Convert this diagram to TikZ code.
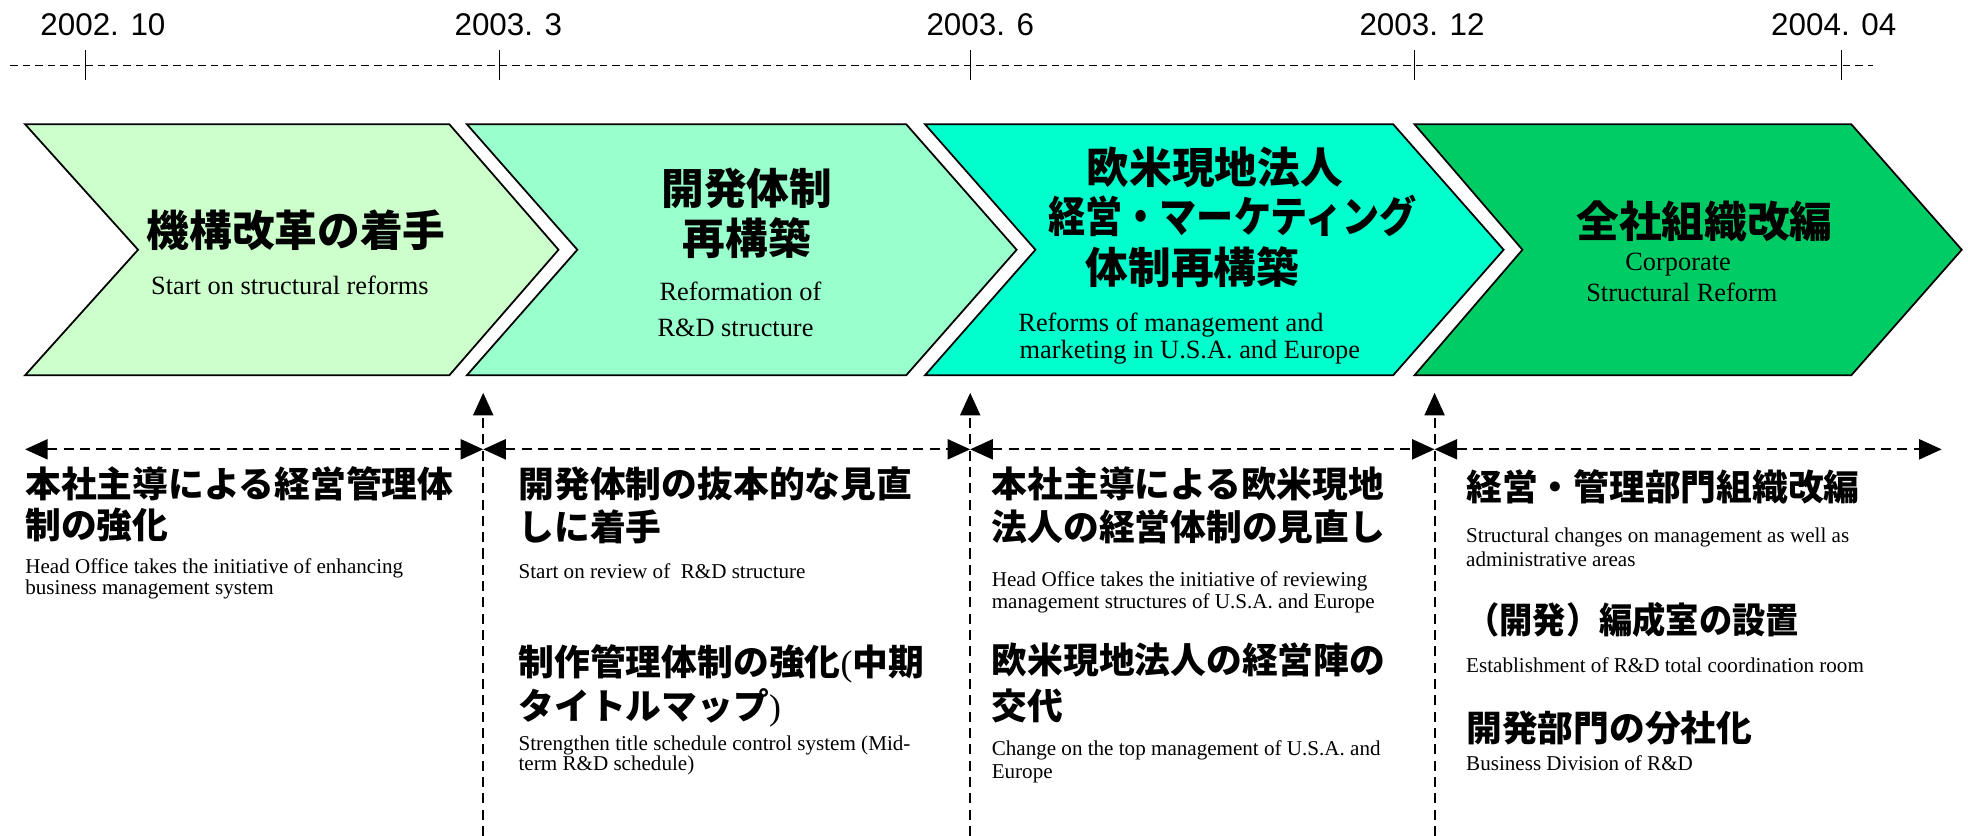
\documentclass[tikz,border=0pt]{standalone}
\usepackage{fontspec}
\setmainfont{Liberation Serif}
\newfontfamily\jp{Noto Sans CJK JP}
\newfontfamily\datefont{Liberation Sans}
\usetikzlibrary{arrows.meta}
\definecolor{cA}{HTML}{CCFFCC}
\definecolor{cB}{HTML}{99FFCC}
\definecolor{cC}{HTML}{00FFCC}
\definecolor{cD}{HTML}{00CC66}
\tikzset{
  jpbig/.style={font=\jp\bfseries\fontsize{34}{40}\selectfont, anchor=base, inner sep=0pt},
  jptext/.style={font=\jp\bfseries\fontsize{28.5}{34}\selectfont, anchor=base west, inner sep=0pt},
  entext/.style={font=\fontsize{16.8}{17.5}\selectfont, anchor=base west, inner sep=0pt},
  enchev/.style={font=\fontsize{21}{24}\selectfont, anchor=base, inner sep=0pt},
  datelabel/.style={font=\datefont\fontsize{25}{30}\selectfont, anchor=base west, inner sep=0pt},
  chev/.style={draw=black, line width=1.4pt, line join=miter},
  tline/.style={line width=1.1pt, dash pattern=on 6pt off 4pt},
  tick/.style={line width=1.1pt},
  divider/.style={line width=1.6pt, dash pattern=on 8pt off 5pt, -{Triangle[length=18pt,width=16pt]}},
  spanarrow/.style={line width=1.6pt, dash pattern=on 8pt off 5pt, {Triangle[length=18pt,width=16pt]}-{Triangle[length=18pt,width=16pt]}},
}
\begin{document}
\begin{tikzpicture}[x=1pt,y=-1pt]
\fill[white] (0,0) rectangle (1568,666);
\useasboundingbox (0,0) rectangle (1568,666);

% timeline
\coordinate (tlL) at (8,52);
\coordinate (tlR) at (1492,52);
\draw[tline] (tlL) -- (tlR);
\foreach \x/\n in {68/a,398/b,773/c,1127/d,1467/e}{
  \coordinate (tk\n t) at (\x,40);
  \coordinate (tk\n b) at (\x,64);
  \draw[tick] (tk\n t) -- (tk\n b);
}
\node[datelabel] (d1) at (32,28) {2002. 10};
\node[datelabel] (d2) at (362,28) {2003. 3};
\node[datelabel] (d3) at (738,28) {2003. 6};
\node[datelabel] (d4) at (1083,28) {2003. 12};
\node[datelabel] (d5) at (1411,28) {2004. 04};

% chevrons
\draw[chev, fill=cA] (20,99) -- (358,99) -- (445,199) -- (358,299) -- (20,299) -- (110,199) -- cycle;
\draw[chev, fill=cB] (372,99) -- (722,99) -- (810,199) -- (722,299) -- (372,299) -- (460,199) -- cycle;
\draw[chev, fill=cC] (737,99) -- (1110,99) -- (1198,199) -- (1110,299) -- (737,299) -- (825,199) -- cycle;
\draw[chev, fill=cD] (1127,99) -- (1475,99) -- (1563,199) -- (1475,299) -- (1127,299) -- (1213,199) -- cycle;

% chevron texts
\node[jpbig] (h1) at (236,196) {機構改革の着手};
\node[enchev] (e1) at (231,234.5) {Start on structural reforms};

\node[jpbig] (h2a) at (595,163) {開発体制};
\node[jpbig] (h2b) at (595,203) {再構築};
\node[enchev] (e2a) at (590,239.5) {Reformation of};
\node[enchev] (e2b) at (586,268.5) {R\&D structure};

\node[jpbig] (h3a) at (968,146) {欧米現地法人};
\node[jpbig] (h3b) at (982,185) {\scalebox{0.87}[1]{経営・マーケティング}};
\node[jpbig] (h3c) at (950,226) {体制再構築};
\node[enchev] (e3a) at (933,264.5) {Reforms of management and};
\node[enchev] (e3b) at (948,285.5) {marketing in U.S.A. and Europe};

\node[jpbig] (h4) at (1358,189) {全社組織改編};
\node[enchev] (e4a) at (1337,215.5) {Corporate};
\node[enchev] (e4b) at (1340,240.5) {Structural Reform};

% dividers
\foreach \x/\n in {385/a,773/b,1143/c}{
  \coordinate (dv\n b) at (\x,666);
  \coordinate (dv\n t) at (\x,313);
  \draw[divider] (dv\n b) -- (dv\n t);
}
\coordinate (s0) at (20,358);
\coordinate (s1) at (385,358);
\coordinate (s2) at (773,358);
\coordinate (s3) at (1143,358);
\coordinate (s4) at (1547,358);
\draw[spanarrow] (s0) -- (s1);
\draw[spanarrow] (s1) -- (s2);
\draw[spanarrow] (s2) -- (s3);
\draw[spanarrow] (s3) -- (s4);

% column 1
\node[jptext] (c1a) at (20,396) {本社主導による経営管理体};
\node[jptext] (c1b) at (20,429) {制の強化};
\node[entext] (c1c) at (20,457) {Head Office takes the initiative of enhancing};
\node[entext] (c1d) at (20,474) {business management system};

% column 2
\node[jptext] (c2a) at (413,396) {開発体制の抜本的な見直};
\node[jptext] (c2b) at (413,431) {しに着手};
\node[entext] (c2c) at (413,461) {Start on review of\ \ R\&D structure};
\node[jptext] (c2d) at (413,538) {制作管理体制の強化\textmd{\rmfamily(}中期};
\node[jptext] (c2e) at (413,573) {タイトルマップ\textmd{\rmfamily)}};
\node[entext] (c2f) at (413,598) {Strengthen title schedule control system (Mid-};
\node[entext] (c2g) at (413,614) {term R\&D schedule)};

% column 3
\node[jptext] (c3a) at (790,396) {本社主導による欧米現地};
\node[jptext] (c3b) at (790,431) {法人の経営体制の見直し};
\node[entext] (c3c) at (790,467) {Head Office takes the initiative of reviewing};
\node[entext] (c3d) at (790,485) {management structures of U.S.A. and Europe};
\node[jptext] (c3e) at (790,537) {欧米現地法人の経営陣の};
\node[jptext] (c3f) at (790,573) {交代};
\node[entext] (c3g) at (790,602) {Change on the top management of U.S.A. and};
\node[entext] (c3h) at (790,620) {Europe};

% column 4
\node[jptext] (c4a) at (1168,399) {経営・管理部門組織改編};
\node[entext] (c4b) at (1168,432) {Structural changes on management as well as};
\node[entext] (c4c) at (1168,451) {administrative areas};
\node[jptext] (c4d) at (1168,505) {\scalebox{0.93}[1]{（開発）編成室の設置}};
\node[entext] (c4e) at (1168,536) {Establishment of R\&D total coordination room};
\node[jptext] (c4f) at (1168,591) {開発部門の分社化};
\node[entext] (c4g) at (1168,614) {Business Division of R\&D};
\end{tikzpicture}
\end{document}
